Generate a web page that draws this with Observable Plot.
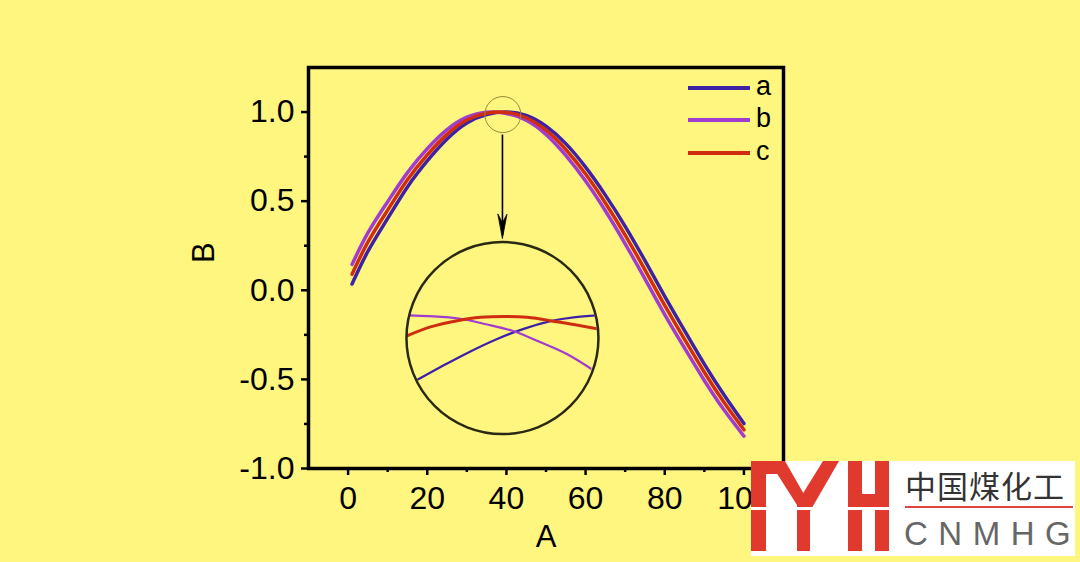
<!DOCTYPE html>
<html><head><meta charset="utf-8">
<script src="https://cdn.jsdelivr.net/npm/d3@7"></script>
<script src="https://cdn.jsdelivr.net/npm/@observablehq/plot@0.6"></script>
<style>
html,body{margin:0;padding:0;background:#fff680;}
#wrap{position:relative;width:1080px;height:562px;overflow:hidden;font-family:"Liberation Sans",Arial,sans-serif;}
#inset{position:absolute;left:404px;top:241px;width:196px;height:192px;clip-path:circle(95px at 98px 96px);}
#main{position:absolute;left:0;top:0;}
.leg{position:absolute;left:688px;height:26px;}
.leg .ln{position:absolute;left:0;top:11px;width:62px;height:3.5px;}
.leg .lb{position:absolute;left:68px;top:-4px;font-size:27px;line-height:30px;color:#000;}
#wm{position:absolute;left:751px;top:461px;width:324px;height:95px;background:#fff;}
#wm .cn{position:absolute;left:154px;top:6px;font-family:"Noto Sans CJK SC",sans-serif;font-size:31px;line-height:36px;color:#333;letter-spacing:1px;}
#wm .bar{position:absolute;left:154px;top:45px;width:168px;height:2px;background:#e0453b;}
#wm .en{position:absolute;left:153px;top:53px;font-family:"Liberation Sans",Arial,sans-serif;font-size:33px;line-height:40px;color:#666;letter-spacing:10.5px;white-space:nowrap;}
</style></head><body><div id="wrap"></div>
<script>
// ---- data ----
const xValues = [1,5,10,15,20,25,30,35,40,45,50,55,60,65,70,75,80,85,90,95,100];
const seriesA = [0.035,0.218,0.403,0.58,0.726,0.849,0.939,0.986,1.0,0.981,0.921,0.823,0.691,0.534,0.359,0.166,-0.034,-0.226,-0.414,-0.588,-0.748];
const seriesB = [0.145,0.322,0.497,0.66,0.794,0.901,0.971,0.999,0.992,0.955,0.875,0.757,0.613,0.446,0.261,0.064,-0.136,-0.324,-0.506,-0.672,-0.818];
const seriesC = [0.09,0.27,0.45,0.62,0.76,0.875,0.955,0.993,0.998,0.968,0.898,0.79,0.652,0.49,0.31,0.115,-0.085,-0.275,-0.46,-0.63,-0.783];
const seriesNames = ["a","b","c"];
const seriesColors = ["#3d22a8","#a23cd0","#d02c10"];

// magnified view (inset) of the peak
const insetXA = [35.48,36.70,37.86,39.02,40.17,41.33,42.34,43.36];
const insetYA = [0.9810,0.9842,0.9871,0.9897,0.9918,0.9934,0.9942,0.9946];
const insetXB = [35.0,35.19,36.27,37.43,38.59,39.74,40.90,42.06,43.21,43.5];
const insetYB = [0.9946,0.9946,0.9944,0.9939,0.9927,0.9913,0.9890,0.9865,0.9831,0.9822];
const insetXC = [35.04,36.13,37.29,38.30,39.31,40.32,41.33,42.34,43.47];
const insetYC = [0.9902,0.9922,0.9935,0.9942,0.9944,0.9942,0.9935,0.9927,0.9917];
const insetXDomain = [35,43.5];
const insetYDomain = [0.97,1.01];

// annotation anchors (data units)
const zoomSpot = [{x:39.1, y:0.986}];
const insetSpot = [{x:39.0, y:-0.268}];
const arrowShaft = [{x:39.0, y1:0.874, y2:0.31}];
const arrowTip = [{x:39.0, y:0.292}];

// axes
const xDomain = [-10,110];
const yDomain = [-1,1.25];
const xMajorTicks = [0,20,40,60,80,100];
const xMinorTicks = [10,30,50,70,90];
const yMajorTicks = [-1,-0.5,0,0.5,1];
const yMinorTicks = [-0.75,-0.25,0.25,0.75];
const xLabel = "A";
const yLabel = "B";

// ---- build ----
const rows = [];
xValues.forEach((x,i)=>{
  rows.push({x, y:seriesA[i], s:"a"});
  rows.push({x, y:seriesB[i], s:"b"});
  rows.push({x, y:seriesC[i], s:"c"});
});
const insetRows = [];
insetXA.forEach((x,i)=>insetRows.push({x,y:insetYA[i],s:"a"}));
insetXB.forEach((x,i)=>insetRows.push({x,y:insetYB[i],s:"b"}));
insetXC.forEach((x,i)=>insetRows.push({x,y:insetYC[i],s:"c"}));

const wrap = document.getElementById("wrap");

const inset = Plot.plot({
  width:196, height:192, margin:0,
  x:{domain:insetXDomain, axis:null},
  y:{domain:insetYDomain, axis:null},
  color:{domain:seriesNames, range:seriesColors},
  style:{background:"transparent"},
  marks:[
    Plot.line(insetRows.filter(d=>d.s!=="c"),{x:"x",y:"y",z:"s",stroke:"s",strokeWidth:2.2,curve:"natural"}),
    Plot.line(insetRows.filter(d=>d.s==="c"),{x:"x",y:"y",z:"s",stroke:"s",strokeWidth:3,curve:"natural"})
  ]
});
const insetDiv = document.createElement("div");
insetDiv.id = "inset";
insetDiv.appendChild(inset);
wrap.appendChild(insetDiv);

const barbHead = {
  draw(context, l) {
    context.moveTo(0, -l);
    context.lineTo(-4.5, 0);
    context.lineTo(0, -l * 0.35);
    context.lineTo(4.5, 0);
    context.closePath();
  }
};

const fmt = d => d.toFixed(1);
const main = Plot.plot({
  width:1080, height:562,
  marginLeft:308, marginRight:297, marginTop:67, marginBottom:94,
  style:{background:"transparent", fontFamily:"'Liberation Sans', Arial, sans-serif", fontSize:"32px", color:"#000", overflow:"visible"},
  x:{domain:xDomain},
  y:{domain:yDomain},
  color:{domain:seriesNames, range:seriesColors},
  marks:[
    Plot.axisX({ticks:xMinorTicks, tickSize:4, tickFormat:()=>"", strokeWidth:2.5, label:null}),
    Plot.axisX({ticks:xMajorTicks, tickSize:7, tickPadding:11, strokeWidth:2.5, label:null, tickFormat:d=>String(d), fontSize:32}),
    Plot.axisY({ticks:yMinorTicks, tickSize:4, tickFormat:()=>"", strokeWidth:2.5, label:null}),
    Plot.axisY({ticks:yMajorTicks, tickSize:7, tickPadding:7, strokeWidth:2.5, label:null, tickFormat:fmt, fontSize:32}),
    Plot.line(rows,{x:"x",y:"y",z:"s",stroke:"s",strokeWidth:3.5,curve:"natural"}),
    Plot.dot(zoomSpot,{x:"x",y:"y",r:18,stroke:"#8e8c3a",strokeWidth:1,fill:"none"}),
    Plot.dot(insetSpot,{x:"x",y:"y",r:96,stroke:"#2a2914",strokeWidth:2.5,fill:"none"}),
    Plot.link(arrowShaft,{x1:"x",y1:"y1",x2:"x",y2:"y2",stroke:"#000",strokeWidth:1.6}),
    Plot.vector(arrowTip,{x:"x",y:"y",length:24,rotate:180,anchor:"end",shape:barbHead,fill:"#000",stroke:"#000",strokeWidth:0.8}),
    Plot.frame({strokeWidth:3.5}),
    Plot.text([xLabel],{frameAnchor:"bottom",dy:78,fontSize:31}),
    Plot.text([yLabel],{frameAnchor:"left",dx:-104,dy:-5,rotate:-90,fontSize:31})
  ]
});
main.id = "main";
wrap.appendChild(main);

// legend
const legendTops = [75,107,140];
seriesNames.forEach((n,i)=>{
  const d = document.createElement("div");
  d.className = "leg";
  d.style.top = legendTops[i]+"px";
  d.innerHTML = `<div class="ln" style="background:${seriesColors[i]}"></div><div class="lb">${n}</div>`;
  wrap.appendChild(d);
});

// watermark
const wm = document.createElement("div");
wm.id = "wm";
wm.innerHTML = `<svg width="140" height="95" style="position:absolute;left:0;top:0">
<g fill="#e03a2e">
<rect x="0" y="0" width="15" height="90"/>
<rect x="0" y="0" width="26" height="13"/>
<polygon points="18,0 34,0 58,42 58,52 46,52 46,44"/>
<polygon points="72,0 88,0 58,52 46,52 46,42"/>
<rect x="46" y="44" width="13" height="46"/>
<rect x="97" y="0" width="14" height="90"/>
<rect x="124" y="0" width="14" height="90"/>
<rect x="97" y="33" width="41" height="13"/>
</g>
<rect x="0" y="46" width="140" height="3" fill="#fff"/>
</svg>
<div class="cn">中国煤化工</div><div class="bar"></div><div class="en">CNMHG</div>`;
wrap.appendChild(wm);
</script>
</body></html>
